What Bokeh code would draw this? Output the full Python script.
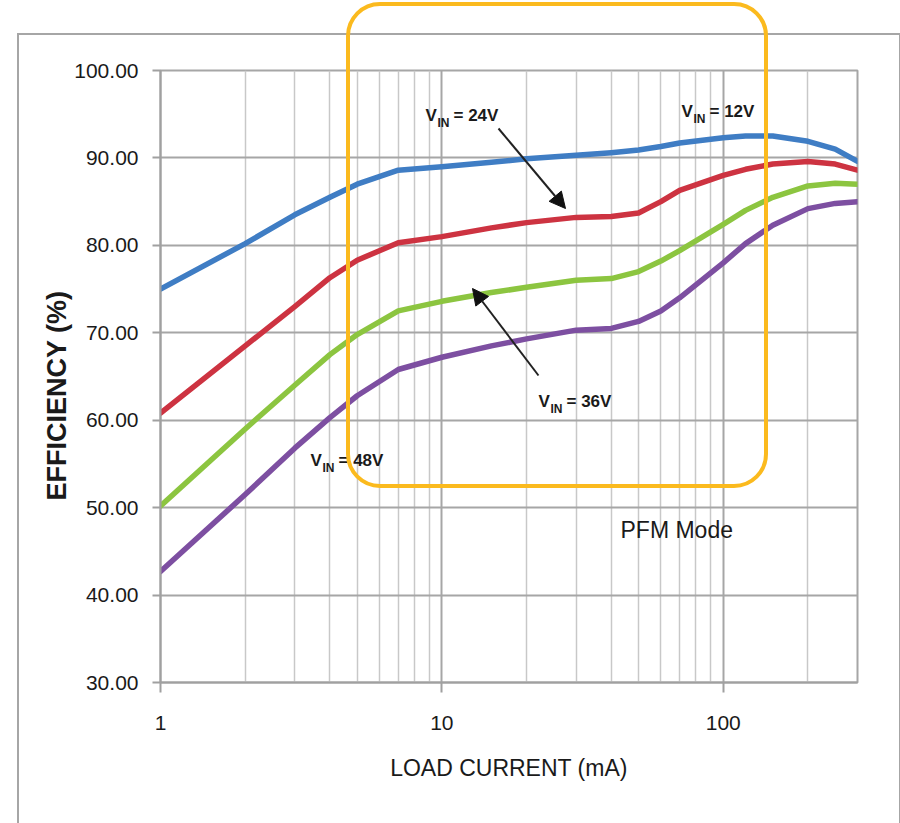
import math
from bokeh.plotting import figure
from bokeh.layouts import column
from bokeh.models import (Range1d, FixedTicker, PrintfTickFormatter, Label, Arrow,
                          NormalHead, Div, Title)
from bokeh.embed import file_html
from bokeh.resources import INLINE

# ---- data ----
load_ma = [1, 2, 3, 4, 5, 7, 10, 15, 20, 30, 40, 50, 60, 70, 100, 120, 150, 200, 250, 300]
eff_12v = [75.0, 80.2, 83.5, 85.5, 87.0, 88.6, 89.0, 89.5, 89.9, 90.3, 90.6, 90.9, 91.3, 91.7, 92.3, 92.5, 92.5, 91.9, 91.0, 89.6]
eff_24v = [60.8, 68.5, 73.0, 76.3, 78.3, 80.3, 81.0, 82.0, 82.6, 83.2, 83.3, 83.7, 85.0, 86.3, 88.0, 88.7, 89.3, 89.6, 89.3, 88.6]
eff_36v = [50.2, 59.0, 64.0, 67.5, 69.8, 72.5, 73.6, 74.6, 75.2, 76.0, 76.2, 77.0, 78.2, 79.4, 82.4, 84.0, 85.5, 86.8, 87.1, 87.0]
eff_48v = [42.7, 51.5, 56.8, 60.3, 62.8, 65.8, 67.2, 68.5, 69.3, 70.3, 70.5, 71.3, 72.5, 74.0, 78.0, 80.2, 82.3, 84.2, 84.8, 85.0]
series_colors = ["#3F7DC4", "#CD3341", "#8CC540", "#7D4FA1"]
y_ticks = [30, 40, 50, 60, 70, 80, 90, 100]
x_major = [1, 10, 100]
x_minor = [2, 3, 4, 5, 6, 7, 8, 9, 20, 30, 40, 50, 60, 70, 80, 90, 200]

W, H = 900, 823
L, R, T, B = 160, 43, 70, 141
FW, FH = W - L - R, H - T - B
X0, X1, Y0, Y1 = 1, 300, 30, 100

def px2x(px):
    return 10 ** (math.log10(X0) + (px - L) / FW * (math.log10(X1) - math.log10(X0)))

def py2y(py):
    return Y1 - (py - T) / FH * (Y1 - Y0)

FONT = "Liberation Sans"
TXT = "#1a1a1a"

p = figure(width=W, height=H, x_axis_type="log",
           x_range=Range1d(X0, X1), y_range=Range1d(Y0, Y1),
           output_backend="svg", toolbar_location=None,
           min_border_left=L, min_border_right=R, min_border_top=T, min_border_bottom=B)
p.background_fill_color = "white"
p.border_fill_color = "white"
p.outline_line_color = "#A6A6A6"
p.outline_line_width = 2

# grids
p.xgrid.ticker = FixedTicker(ticks=x_major, minor_ticks=x_minor)
p.xgrid.grid_line_color = "#A6A6A6"
p.xgrid.grid_line_width = 2
p.xgrid.minor_grid_line_color = "#C8C8C8"
p.xgrid.minor_grid_line_width = 1.5
p.ygrid.ticker = FixedTicker(ticks=y_ticks)
p.ygrid.grid_line_color = "#A6A6A6"
p.ygrid.grid_line_width = 2

# axes
for ax in (p.xaxis[0], p.yaxis[0]):
    ax.axis_line_color = "#A0A0A0"
    ax.axis_line_width = 2
    ax.major_tick_line_color = "#A0A0A0"
    ax.major_tick_line_width = 2
    ax.major_tick_in = 0
    ax.minor_tick_line_color = None
    ax.major_label_text_font = FONT
    ax.major_label_text_font_size = "21px"
    ax.major_label_text_color = TXT
p.xaxis.ticker = FixedTicker(ticks=x_major)
p.xaxis.formatter = PrintfTickFormatter(format="%d")
p.xaxis.major_tick_out = 10
p.xaxis.major_label_standoff = 23
p.xaxis.axis_label = "LOAD CURRENT (mA)"
p.xaxis.axis_label_text_font = FONT
p.xaxis.axis_label_text_font_style = "normal"
p.xaxis.axis_label_text_font_size = "23px"
p.xaxis.axis_label_text_color = TXT
p.xaxis.axis_label_standoff = 22
p.yaxis.ticker = FixedTicker(ticks=y_ticks)
p.yaxis.formatter = PrintfTickFormatter(format="%.2f")
p.yaxis.major_tick_out = 8
p.yaxis.major_label_standoff = 14

# y-axis title placed in the left panel (offset along the axis like the reference)
p.add_layout(Title(text="EFFICIENCY (%)", align="left", offset=182, standoff=0,
                   text_font=FONT, text_font_style="bold", text_font_size="27px",
                   text_color=TXT), "left")

# curves
for ys, c in zip([eff_12v, eff_24v, eff_36v, eff_48v], series_colors):
    p.line(load_ma, ys, line_color=c, line_width=5.5, line_join="round", line_cap="round")

# V_IN labels
def vin(px, base, rest):
    p.add_layout(Label(x=px2x(px), y=py2y(base), text="V", text_align="left",
                       text_baseline="alphabetic", text_font=FONT, text_font_style="bold",
                       text_font_size="17px", text_color=TXT))
    p.add_layout(Label(x=px2x(px + 12), y=py2y(base + 7), text="IN", text_align="left",
                       text_baseline="alphabetic", text_font=FONT, text_font_style="bold",
                       text_font_size="12px", text_color=TXT))
    p.add_layout(Label(x=px2x(px + 28), y=py2y(base), text="= " + rest, text_align="left",
                       text_baseline="alphabetic", text_font=FONT, text_font_style="bold",
                       text_font_size="17px", text_color=TXT))

vin(425, 115, "24V")
vin(681, 111, "12V")
vin(538, 401, "36V")
vin(310, 460, "48V")

p.add_layout(Label(x=px2x(620), y=py2y(529), text="PFM Mode", text_align="left",
                   text_baseline="alphabetic", text_font=FONT,
                   text_font_size="23px", text_color=TXT))

# arrows
for (sx, sy, ex, ey) in [(498, 128, 565, 208), (538, 375, 472, 288)]:
    p.add_layout(Arrow(x_start=px2x(sx), y_start=py2y(sy), x_end=px2x(ex), y_end=py2y(ey),
                       line_color="#222222", line_width=2,
                       end=NormalHead(size=16, fill_color="#111111", line_color="#111111")))

# outer frame and highlighted region (page overlays)
frame_div = Div(text="", width=884, height=792,
                styles={"position": "absolute", "left": "12px", "top": "28px",
                        "box-sizing": "border-box", "border-left": "2px solid #A6A6A6",
                        "border-top": "2px solid #A6A6A6", "border-right": "2px solid #A6A6A6",
                        "pointer-events": "none", "z-index": "5"})
box_div = Div(text="", width=422, height=486,
              styles={"position": "absolute", "left": "341px", "top": "-3px",
                      "box-sizing": "border-box", "border": "4px solid #FBBA1E",
                      "border-radius": "34px", "pointer-events": "none", "z-index": "6"})

layout = column(p, frame_div, box_div)
open("out.html", "w").write(file_html(layout, INLINE))
